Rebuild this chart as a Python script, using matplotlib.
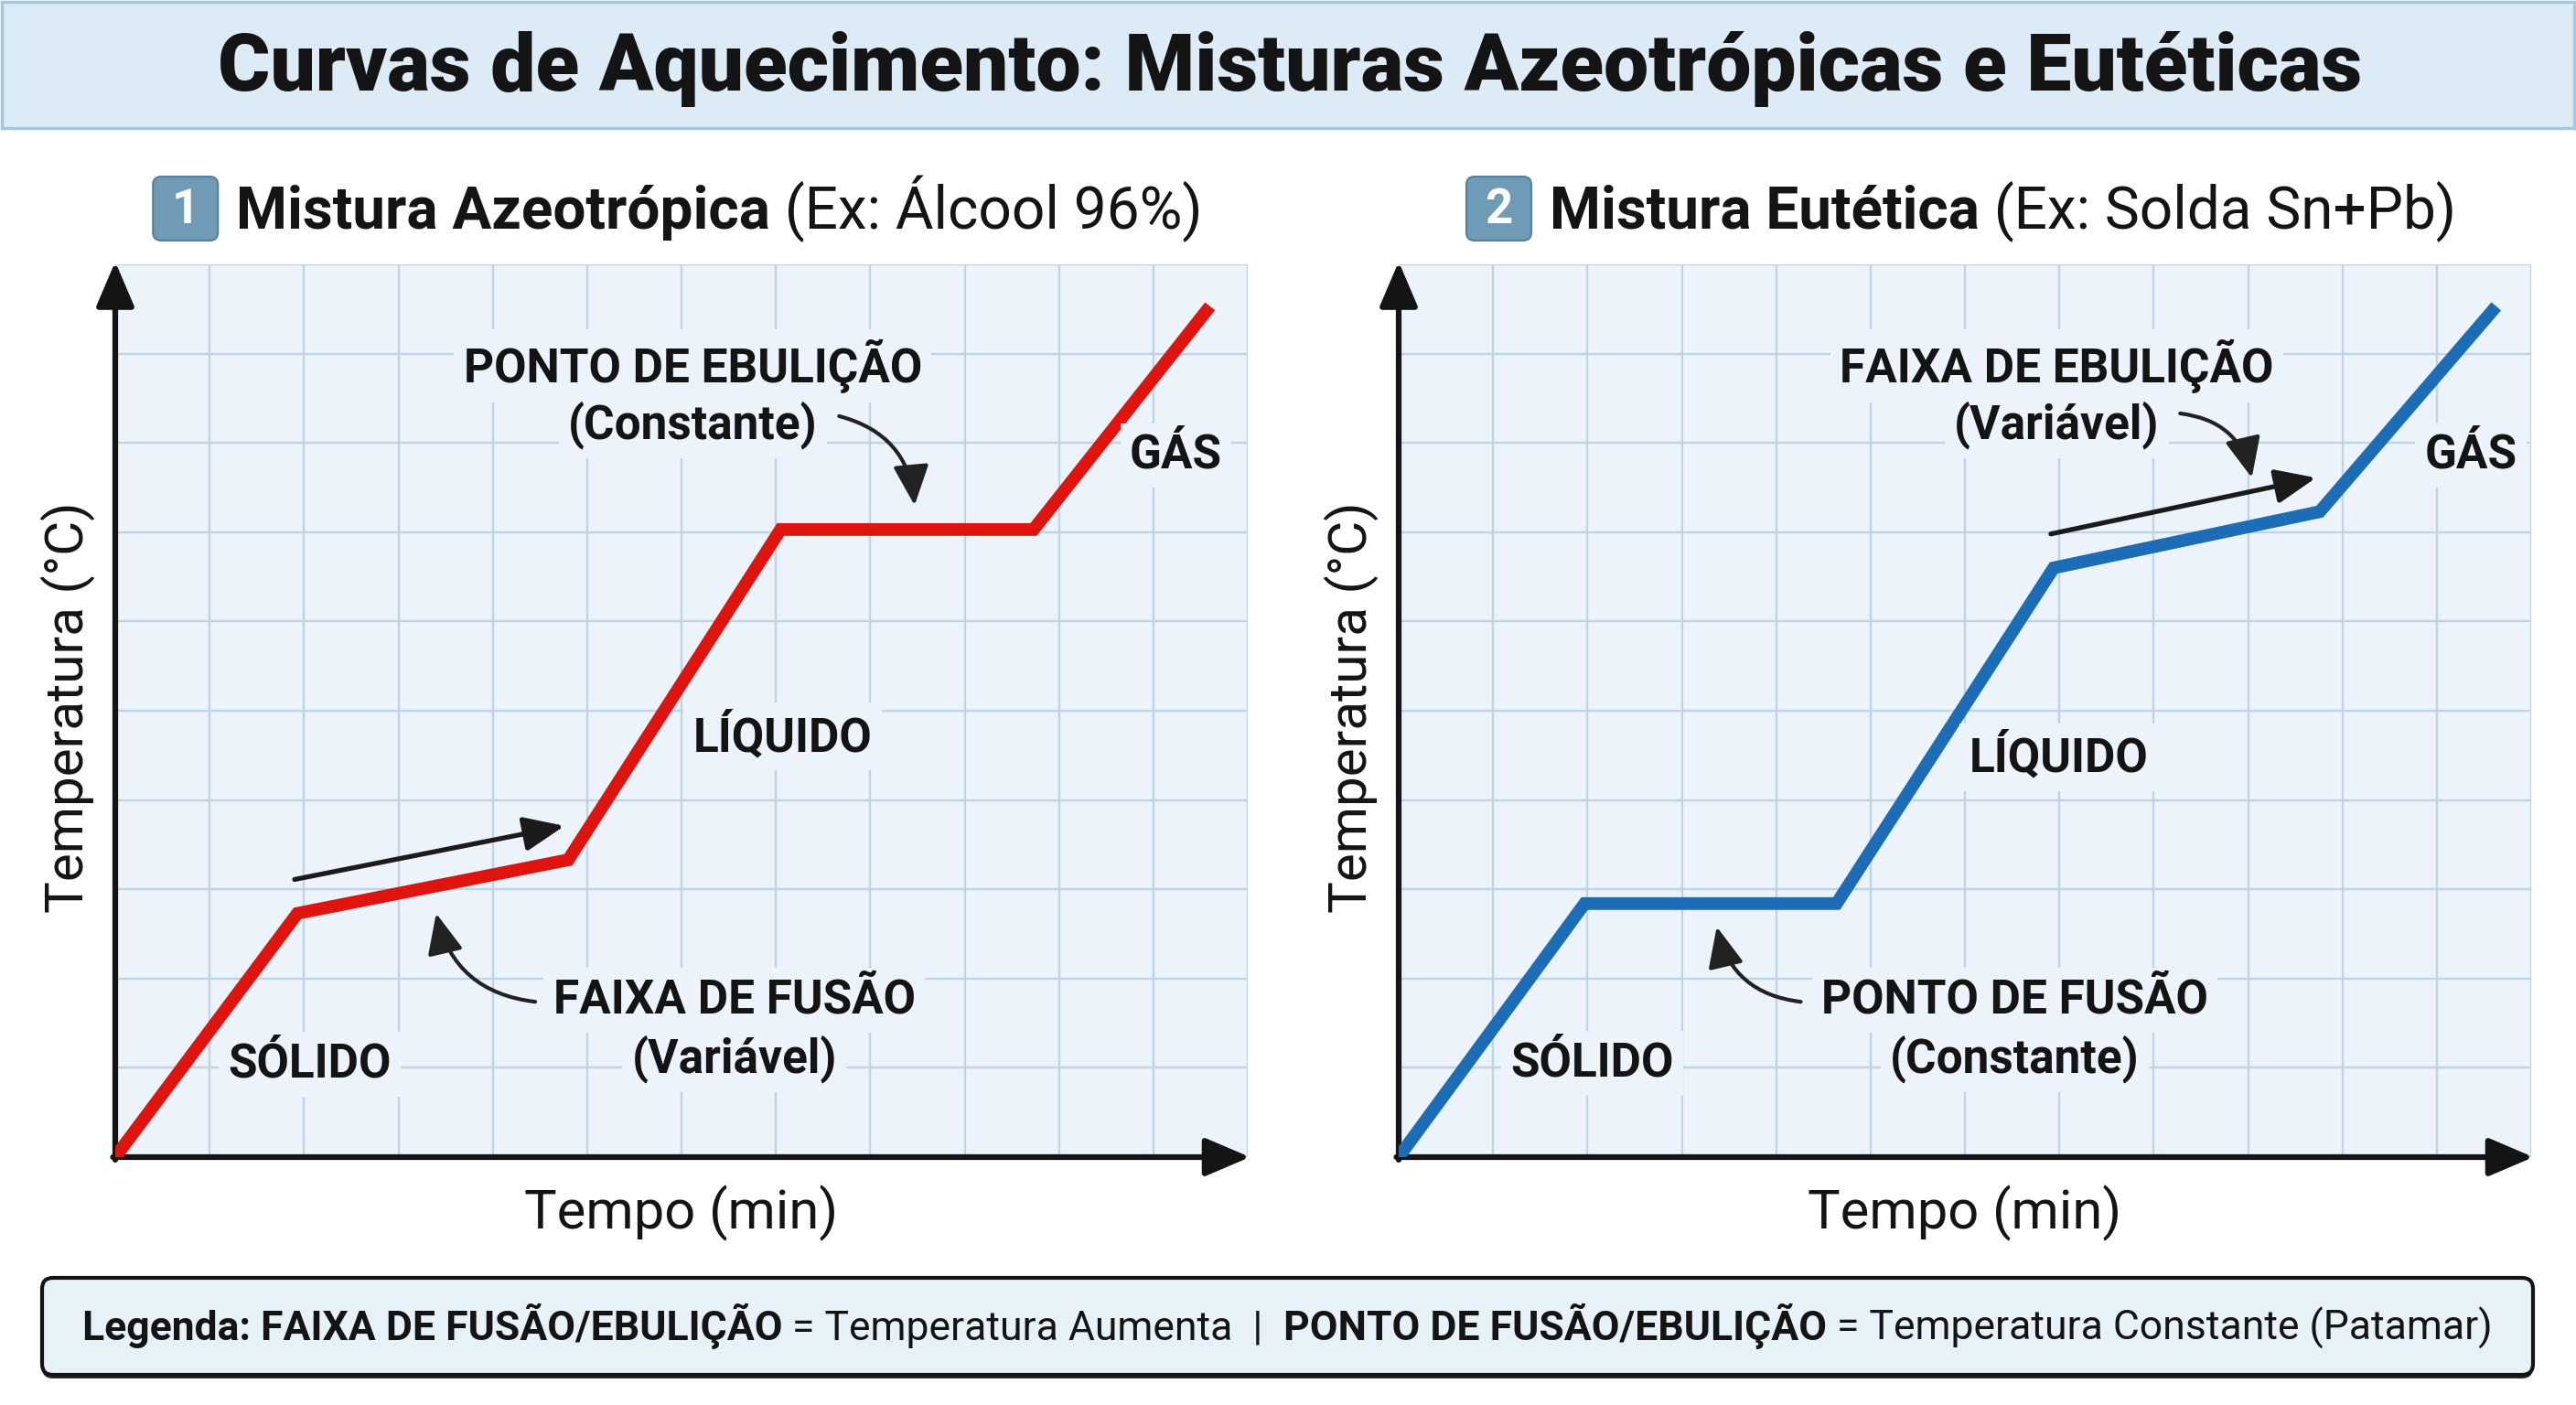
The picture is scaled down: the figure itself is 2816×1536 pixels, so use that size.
import matplotlib
matplotlib.use("Agg")
import matplotlib.pyplot as plt
from matplotlib.patches import Rectangle, FancyBboxPatch

W, H = 2816, 1536
plt.rcParams['font.family'] = ['Roboto', 'DejaVu Sans']

# --- dados (tempo em "min", temperatura em unidades arbitrarias) ---
tempo_azeo = [0, 1.93, 4.80, 7.05, 9.73, 11.60]
temp_azeo = [0, 2.73, 3.33, 7.03, 7.03, 9.53]
tempo_eut = [0, 1.97, 4.64, 6.94, 9.76, 11.63]
temp_eut = [0, 2.84, 2.84, 6.60, 7.23, 9.53]

fases = ["SÓLIDO", "LÍQUIDO", "GÁS"]
titulo = "Curvas de Aquecimento: Misturas Azeotrópicas e Eutéticas"
subtitulos = [("1", "Mistura Azeotrópica", " (Ex: Álcool 96%)"),
              ("2", "Mistura Eutética", " (Ex: Solda Sn+Pb)")]
legenda = [("Legenda: ", "bold"), ("FAIXA DE FUSÃO/EBULIÇÃO", "bold"),
           (" = Temperatura Aumenta  |  ", "normal"),
           ("PONTO DE FUSÃO/EBULIÇÃO", "bold"),
           (" = Temperatura Constante (Patamar)", "normal")]

BG = '#ecf3fa'
GRID = '#c0d4e7'
INK = '#141414'

fig = plt.figure(figsize=(W / 100, H / 100), dpi=100)
fig.patch.set_facecolor('white')
bg = fig.add_axes([0, 0, 1, 1], zorder=0)
bg.set_xlim(0, W)
bg.set_ylim(H, 0)
bg.axis('off')
renderer = fig.canvas.get_renderer()


def text_row(parts, cx, ybase, size, lead=0):
    # escreve pedacos de texto lado a lado, centrados em cx
    objs = []
    total = lead
    for s, wgt in parts:
        t = bg.text(0, ybase, s, fontsize=size, fontweight=wgt, color=INK,
                    ha='left', va='baseline')
        w = t.get_window_extent(renderer).width
        objs.append((t, w))
        total += w
    x = cx - total / 2
    x0 = x
    x += lead
    for t, w in objs:
        t.set_x(x)
        x += w
    return x0


# barra do titulo
bg.add_patch(Rectangle((2, 2), W - 4, 138, facecolor='#dcebf6', edgecolor='#a6c7e0', lw=2.5))
bg.text(W / 2 + 2, 99, titulo, ha='center', va='baseline', fontsize=63,
        fontweight='black', color=INK)

paineis = [
    dict(left=126, x=tempo_azeo, y=temp_azeo, cor='#e0140f',
         fases_xy=[(2.06, 1.04), (7.07, 4.71), (11.24, 7.86)],
         nota_sup=("PONTO DE EBULIÇÃO", "(Constante)", 6.12),
         nota_inf=("FAIXA DE FUSÃO", "(Variável)", 6.56),
         seta_sup=((7.67, 8.30), (8.47, 7.30)),
         seta_inf=((4.45, 1.74), (3.40, 2.73)),
         faixa=1),
    dict(left=1529, x=tempo_eut, y=temp_eut, cor='#1c6db5',
         fases_xy=[(2.05, 1.05), (6.99, 4.48), (11.36, 7.86)],
         nota_sup=("FAIXA DE EBULIÇÃO", "(Variável)", 6.97),
         nota_inf=("PONTO DE FUSÃO", "(Constante)", 6.53),
         seta_sup=((8.28, 8.33), (9.04, 7.61)),
         seta_inf=((4.26, 1.74), (3.37, 2.58)),
         faixa=3),
]

for p, (num, negrito, resto) in zip(paineis, subtitulos):
    left, right, top, bottom = p['left'], p['left'] + 1238, 289, 1265
    ax = fig.add_axes([left / W, (H - bottom) / H, (right - left) / W, (bottom - top) / H], zorder=1)
    ax.set_facecolor(BG)
    ax.set_xlim(0, 12)
    ax.set_ylim(0, 10)
    ax.set_xticks(range(13))
    ax.set_yticks(range(11))
    ax.grid(True, color=GRID, lw=1.7)
    ax.tick_params(length=0, labelbottom=False, labelleft=False)
    for s in ax.spines.values():
        s.set_visible(False)
    ax.set_axisbelow(True)

    # eixos com setas
    head = '-|>,head_length=0.75,head_width=0.32'
    ax.annotate('', xy=(0, 1.003), xytext=(0, -0.003), xycoords='axes fraction',
                arrowprops=dict(arrowstyle=head, lw=4.5, color=INK, mutation_scale=40,
                                shrinkA=0, shrinkB=0), annotation_clip=False)
    ax.annotate('', xy=(1.002, 0), xytext=(-0.002, 0), xycoords='axes fraction',
                arrowprops=dict(arrowstyle=head, lw=4.5, color=INK, mutation_scale=40,
                                shrinkA=0, shrinkB=0), annotation_clip=False)

    ax.plot(p['x'], p['y'], color=p['cor'], lw=10, solid_joinstyle='miter',
            solid_capstyle='butt', zorder=3)

    # seta paralela ao trecho de faixa (temperatura aumentando)
    i = p['faixa']
    off = 0.38
    ax.annotate('', xy=(p['x'][i + 1] - 0.04, p['y'][i + 1] + off),
                xytext=(p['x'][i] - 0.03, p['y'][i] + off),
                arrowprops=dict(arrowstyle='-|>,head_length=0.9,head_width=0.38', lw=3.8,
                                color='#1b1b1b', mutation_scale=30, shrinkA=0, shrinkB=0),
                zorder=4)

    lbl = dict(ha='center', va='center', fontsize=37, fontweight='bold', color=INK, zorder=5,
               bbox=dict(boxstyle='square,pad=0.2', fc=BG, ec='none'))
    for nome, (fx, fy) in zip(fases, p['fases_xy']):
        ax.text(fx, fy, nome, **lbl)
    a, b, xc = p['nota_sup']
    ax.text(xc, 8.86, a, **lbl)
    ax.text(xc, 8.20, b, **lbl)
    a, b, xc = p['nota_inf']
    ax.text(xc, 1.76, a, **lbl)
    ax.text(xc, 1.10, b, **lbl)
    for (s0, s1) in (p['seta_sup'], p['seta_inf']):
        ax.annotate('', xy=s1, xytext=s0,
                    arrowprops=dict(arrowstyle='-|>,head_length=0.9,head_width=0.4', lw=3.0,
                                    color='#222222', mutation_scale=30, shrinkA=0, shrinkB=0,
                                    connectionstyle='arc3,rad=-0.35'), zorder=4)

    # rotulos dos eixos
    cx = (left + right) / 2
    bg.text(cx, 1326, "Tempo (min)", ha='center', va='center', fontsize=43, color=INK)
    bg.text(left - 52, (top + bottom) / 2 - 4, "Temperatura (°C)", ha='center', va='center',
            rotation=90, fontsize=42, color=INK)

    # subtitulo com "emoji" numerado
    box = 71
    gap = 20
    x0 = text_row([(negrito, 'bold'), (resto, 'normal')], cx - 4, 250, 46, lead=box + gap)
    bg.add_patch(FancyBboxPatch((x0, 193), box, 70, boxstyle='round,pad=0,rounding_size=9',
                                fc='#6f9bb6', ec='#557f99', lw=1.5))
    bg.text(x0 + box / 2, 229, num, ha='center', va='center', fontsize=38,
            fontweight='bold', color='white')

# caixa da legenda
bg.add_patch(FancyBboxPatch((46, 1401), 2723, 106, boxstyle='round,pad=0,rounding_size=12',
                            fc='#2a2a2a', ec='none'))
bg.add_patch(FancyBboxPatch((46, 1397), 2723, 106, boxstyle='round,pad=0,rounding_size=12',
                            fc='#e7f1f8', ec=INK, lw=3))
text_row(legenda, 1407, 1465, 32)

fig.savefig('out.png', dpi=100)
